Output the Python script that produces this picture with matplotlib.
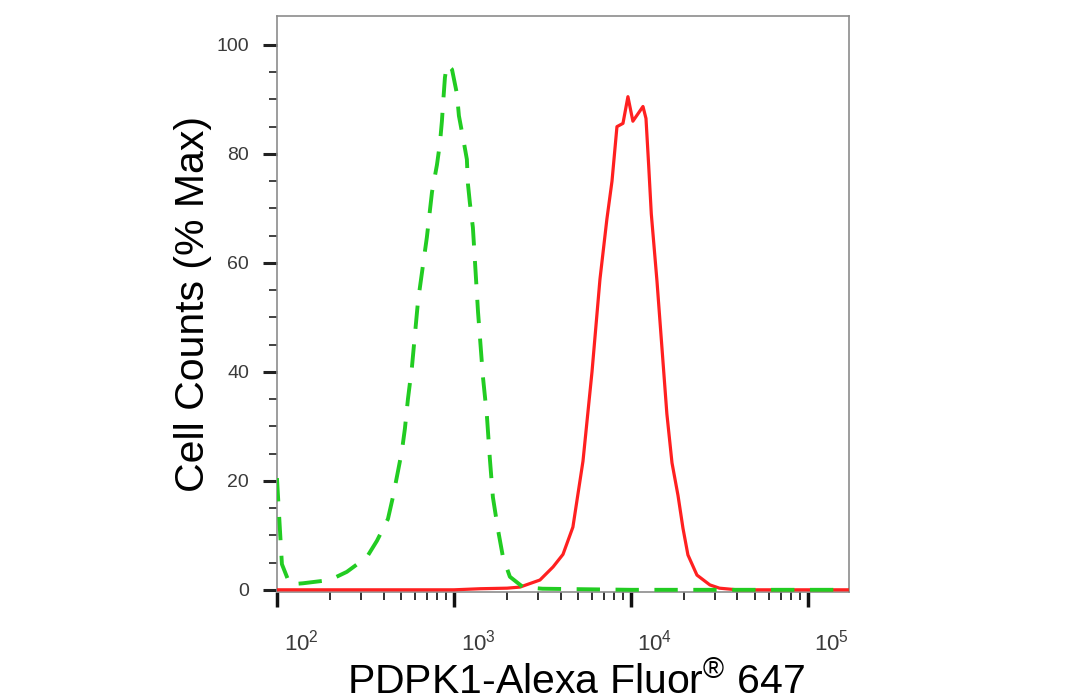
import numpy as np
import matplotlib
matplotlib.use("Agg")
import matplotlib.pyplot as plt
import matplotlib.transforms as mtransforms
from matplotlib.ticker import FixedLocator, NullFormatter

plt.rcParams['font.family'] = ['Liberation Sans', 'DejaVu Sans']
plt.rcParams['mathtext.default'] = 'regular'

# isotype control (green dashed), log10 of intensity vs % max
green_exp = [2.0, 2.028, 2.073, 2.147, 2.299, 2.395, 2.508, 2.565, 2.627, 2.655,
             2.684, 2.706, 2.723, 2.740, 2.763, 2.780, 2.797, 2.847, 2.876, 2.904,
             2.921, 2.932, 2.938, 2.949, 2.960, 2.989, 3.017, 3.028, 3.051, 3.073,
             3.079, 3.090, 3.107, 3.136, 3.164, 3.186, 3.203, 3.220, 3.249, 3.277,
             3.316, 3.390, 3.5, 4.0, 4.5, 5.232]
green_pct = [20.5, 4.7, 1.0, 1.2, 1.8, 3.3, 6.0, 9.0, 13.0, 17.0,
             21.8, 25.5, 29.6, 35.0, 41.0, 47.0, 53.0, 64.7, 73.0, 78.0,
             82.0, 86.0, 89.0, 94.0, 96.4, 95.5, 91.0, 87.0, 83.0, 79.0,
             74.5, 71.0, 66.5, 51.0, 39.0, 32.0, 24.0, 17.0, 11.0, 6.0,
             2.4, 0.5, 0.2, 0.0, 0.0, 0.0]

# PDPK1 stained sample (red solid)
red_exp = [2.0, 2.5, 3.0, 3.15, 3.3, 3.373, 3.486, 3.56, 3.616, 3.672,
           3.729, 3.78, 3.825, 3.864, 3.893, 3.921, 3.955, 3.983, 4.011, 4.068,
           4.085, 4.100, 4.115, 4.147, 4.175, 4.203, 4.232, 4.266, 4.294, 4.322,
           4.373, 4.446, 4.5, 4.6, 5.232]
red_pct = [0.0, 0.0, 0.0, 0.2, 0.3, 0.5, 1.8, 4.2, 6.5, 11.5,
           23.6, 40.0, 57.0, 68.0, 75.0, 85.0, 85.6, 90.5, 86.0, 88.7,
           86.5, 78.0, 69.0, 56.7, 44.5, 32.3, 23.3, 17.3, 11.3, 6.4,
           2.7, 0.9, 0.3, 0.0, 0.0]

x_major = [1e2, 1e3, 1e4, 1e5]
x_labels = ['$10^{2}$', '$10^{3}$', '$10^{4}$', '$10^{5}$']
y_major = [0, 20, 40, 60, 80, 100]

fig = plt.figure(figsize=(10.84, 7.0), dpi=100)
ax = fig.add_axes([0.2555, 0.1543, 0.5277, 0.8228])

ax.plot(10 ** np.array(red_exp), red_pct, color='#ff2020', lw=2.3, zorder=3)
ax.plot(10 ** np.array(green_exp), green_pct, color='#22cc22', lw=2.8,
        dashes=(6, 4), zorder=4)

ax.set_xscale('log')
ax.set_xlim(1e2, 10 ** 5.232)
ax.set_ylim(-0.4, 105.3)

ax.xaxis.set_major_locator(FixedLocator(x_major))
ax.set_xticklabels(x_labels)
minors = [m * 10 ** e for e in range(2, 6) for m in range(2, 10) if m * 10 ** e < 10 ** 5.232]
ax.xaxis.set_minor_locator(FixedLocator(minors))
ax.xaxis.set_minor_formatter(NullFormatter())
ax.set_yticks(y_major)
ax.set_yticks(np.arange(0, 105, 5), minor=True)

for s in ax.spines.values():
    s.set_color('#8c8c8c')
    s.set_linewidth(1.2)

ax.tick_params(axis='y', which='major', direction='out', length=10, width=2.2,
               color='#222222', labelsize=14, labelcolor='#3a3a3a', pad=10)
ax.tick_params(axis='y', which='minor', direction='out', length=6, width=1.2, color='#222222')
ax.tick_params(axis='x', which='major', direction='out', length=11, width=2.5,
               color='#111111', labelsize=16, labelcolor='#3a3a3a', pad=16)
ax.tick_params(axis='x', which='minor', direction='out', length=6, width=1.3, color='#222222')

for lab in ax.get_xticklabels():
    lab.set_transform(lab.get_transform() +
                      mtransforms.ScaledTranslation(0.24, 0, fig.dpi_scale_trans))

ax.set_xlabel('PDPK1-Alexa Fluor$^{®}$ 647', fontsize=29.5, color='black')
ax.xaxis.set_label_coords(0.523, -0.177)
ax.xaxis.label.set_va('baseline')
ax.set_ylabel('Cell Counts (% Max)', fontsize=29.5, color='black')
ax.yaxis.set_label_coords(-0.147, 0.5)
ax.yaxis.label.set_va('center')

fig.savefig('out.png', dpi=100)
